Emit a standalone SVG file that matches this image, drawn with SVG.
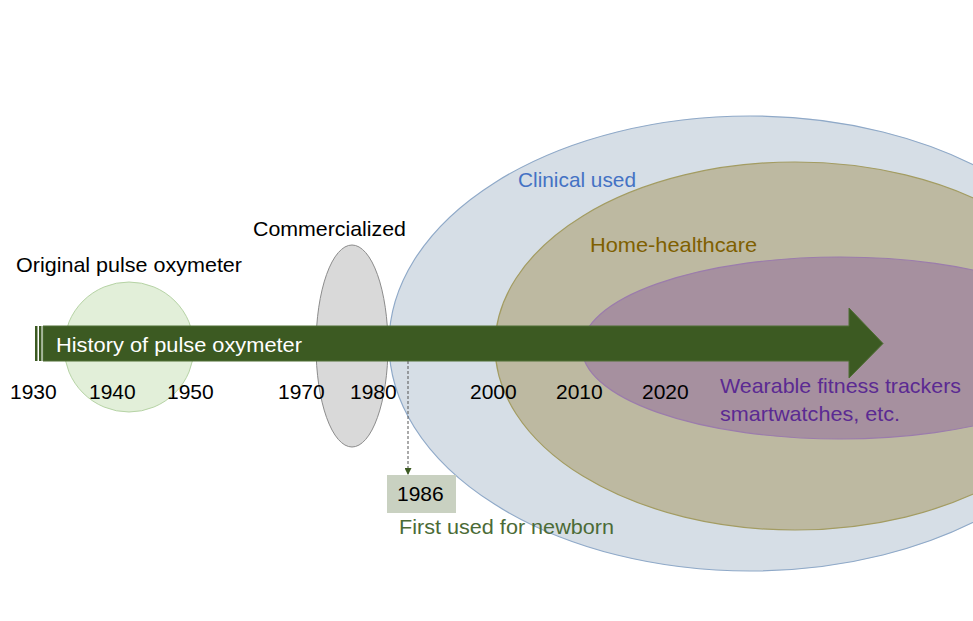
<svg xmlns="http://www.w3.org/2000/svg" width="973" height="621" viewBox="0 0 973 621">
<defs>
<style>
text{font-family:"Liberation Sans",Arial,sans-serif;}
.yr{font-size:21px;fill:#000;}
.lbl{font-size:21px;}
</style>
<marker id="ah" viewBox="0 0 10 10" refX="10" refY="5" markerWidth="7" markerHeight="7" markerUnits="userSpaceOnUse" orient="auto">
<path d="M0,0 L10,5 L0,10 Z" fill="#3c5a22"/>
</marker>
</defs>
<rect width="973" height="621" fill="#fff"/>
<g id="original">
<circle cx="129" cy="347" r="65" fill="#e2efd9" stroke="#b6d3a5" stroke-width="1"/>
<text class="lbl" x="16" y="272" textLength="226" lengthAdjust="spacingAndGlyphs">Original pulse oxymeter</text>
</g>
<g id="commercialized">
<ellipse cx="352" cy="346" rx="36" ry="101" fill="#d9d9d9" stroke="#8c8c8c" stroke-width="1"/>
<text class="lbl" x="253" y="236" textLength="153" lengthAdjust="spacingAndGlyphs">Commercialized</text>
</g>
<g id="clinical">
<ellipse cx="750" cy="343.5" rx="361" ry="227.5" fill="#d6dee6" stroke="#8fa9c8" stroke-width="1.2"/>
<text class="lbl" x="518" y="187" fill="#4472c4" textLength="118" lengthAdjust="spacingAndGlyphs">Clinical used</text>
</g>
<g id="home">
<ellipse cx="795" cy="346" rx="300" ry="184" fill="#bdb9a1" stroke="#a39c62" stroke-width="1.2"/>
<text class="lbl" x="590" y="252" fill="#7f6000" textLength="167" lengthAdjust="spacingAndGlyphs">Home-healthcare</text>
</g>
<g id="wearable">
<ellipse cx="840" cy="348" rx="258" ry="91" fill="#a6909f" stroke="#9b7cac" stroke-width="1.2"/>
<text class="lbl" x="720" y="393" fill="#5b2a92" textLength="241" lengthAdjust="spacingAndGlyphs">Wearable fitness trackers</text>
<text class="lbl" x="720" y="421" fill="#5b2a92" textLength="180" lengthAdjust="spacingAndGlyphs">smartwatches, etc.</text>
</g>
<g id="history">
<rect x="35" y="326" width="2.5" height="35" fill="#3c5a22"/>
<rect x="39" y="326" width="2.5" height="35" fill="#3c5a22"/>
<path d="M43,326 L849,326 L849,308 L883,343.5 L849,378 L849,361 L43,361 Z" fill="#3c5a22" stroke="#4f6e34" stroke-width="1"/>
<text x="56" y="352" font-size="21" fill="#fff" textLength="246" lengthAdjust="spacingAndGlyphs">History of pulse oxymeter</text>
</g>
<g id="years">
<text class="yr" x="10" y="399">1930</text>
<text class="yr" x="89" y="399">1940</text>
<text class="yr" x="167" y="399">1950</text>
<text class="yr" x="278" y="399">1970</text>
<text class="yr" x="350" y="399">1980</text>
<text class="yr" x="470" y="399" fill="#141a38">2000</text>
<text class="yr" x="556" y="399" fill="#2b2510">2010</text>
<text class="yr" x="642" y="399" fill="#3a2433">2020</text>
</g>
<g id="connectors">
<line x1="408" y1="361" x2="408" y2="475" stroke="#555" stroke-width="1" stroke-dasharray="3,2" marker-end="url(#ah)"/>
</g>
<g id="newborn">
<rect x="387" y="475" width="69" height="38" fill="#c9d1c1"/>
<text class="yr" x="397" y="501">1986</text>
<text class="lbl" x="399" y="534" fill="#4b6b36" textLength="215" lengthAdjust="spacingAndGlyphs">First used for newborn</text>
</g>
</svg>
